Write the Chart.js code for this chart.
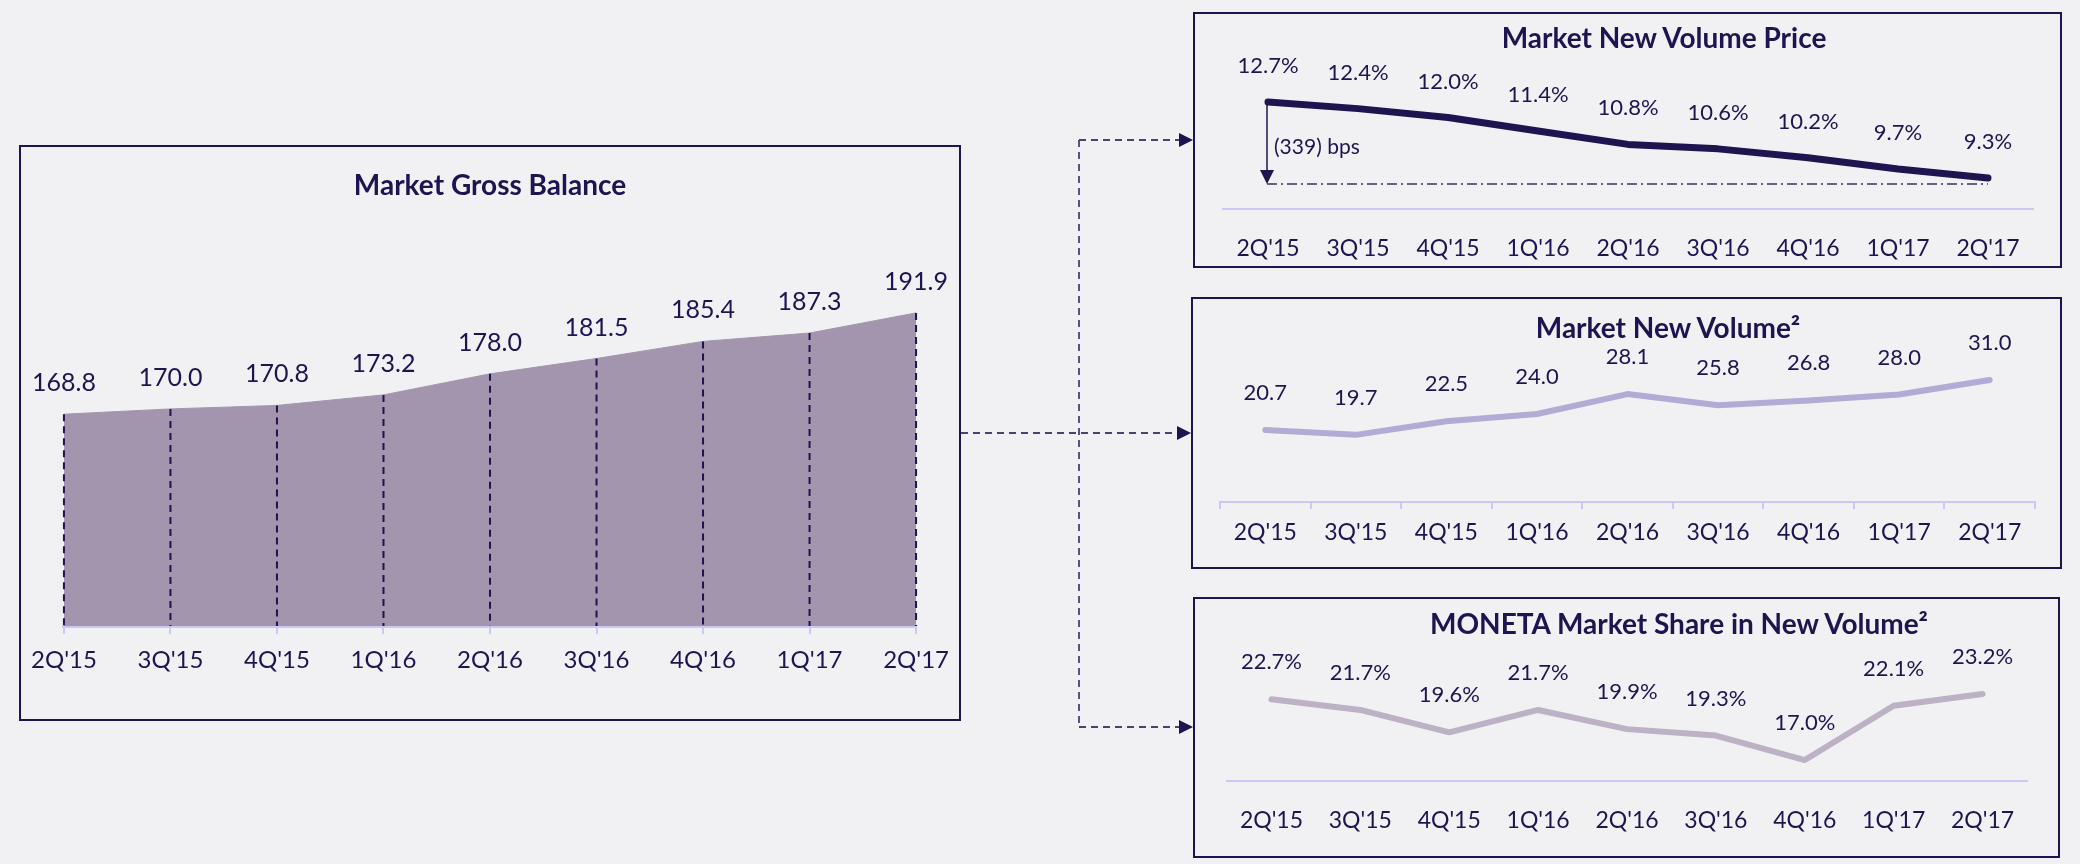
<!DOCTYPE html>
<html lang="en">
<head>
<meta charset="utf-8">
<title>Market Gross Balance</title>
<script src="https://cdn.jsdelivr.net/npm/chart.js@4.4.1/dist/chart.umd.min.js"></script>
<style>
    html, body { margin: 0; padding: 0; }
    body {
        width: 2080px; height: 864px; position: relative; overflow: hidden;
        background: #f1f0f3; font-family: Lato, 'Open Sans', sans-serif; color: #1e1450;
    }
    .caja { position: absolute; box-sizing: border-box; border: 2px solid #1e1450; }
    .titulo { position: absolute; transform: translate(-50%, -50%); font-weight: 700; font-size: 28px; white-space: nowrap; }
    canvas { position: absolute; }
    svg { position: absolute; left: 0; top: 0; }
</style>
</head>
<body>

<div class="caja" style="left:19px;top:145px;width:942px;height:576px"></div>
<div class="caja" style="left:1193px;top:12px;width:869px;height:256px"></div>
<div class="caja" style="left:1191px;top:297px;width:871px;height:272px"></div>
<div class="caja" style="left:1193px;top:597px;width:867px;height:261px"></div>

<!-- flechas de conexion entre cajas -->
<svg width="2080" height="864">
    <g stroke="#4b4272" stroke-width="1.8" stroke-dasharray="7 5" fill="none">
        <path d="M961 433 H1177"/>
        <path d="M1079 140 V727"/>
        <path d="M1079 140 H1179"/>
        <path d="M1079 727 H1179"/>
    </g>
    <g fill="#1e1450">
        <polygon points="1177,426 1191,433 1177,440"/>
        <polygon points="1179,133 1193,140 1179,147"/>
        <polygon points="1179,720 1193,727 1179,734"/>
    </g>
</svg>

<canvas id="graficaSaldo" width="942" height="576" style="left:19px;top:145px"></canvas>
<canvas id="graficaPrecio" width="869" height="256" style="left:1193px;top:12px"></canvas>
<canvas id="graficaVolumen" width="871" height="272" style="left:1191px;top:297px"></canvas>
<canvas id="graficaCuota" width="867" height="261" style="left:1193px;top:597px"></canvas>

<div class="titulo" style="left:490px;top:184px">Market Gross Balance</div>
<div class="titulo" style="left:1664px;top:37px">Market New Volume Price</div>
<div class="titulo" style="left:1668px;top:327px">Market New Volume²</div>
<div class="titulo" style="left:1679px;top:623px">MONETA Market Share in New Volume²</div>

<script>
// Datos
const trimestres = ["2Q'15", "3Q'15", "4Q'15", "1Q'16", "2Q'16", "3Q'16", "4Q'16", "1Q'17", "2Q'17"];
const saldoBruto = [168.8, 170.0, 170.8, 173.2, 178.0, 181.5, 185.4, 187.3, 191.9];
const precioNuevoVolumen = [12.7, 12.4, 12.0, 11.4, 10.8, 10.6, 10.2, 9.7, 9.3];
const nuevoVolumen = [20.7, 19.7, 22.5, 24.0, 28.1, 25.8, 26.8, 28.0, 31.0];
const cuotaMoneta = [22.7, 21.7, 19.6, 21.7, 19.9, 19.3, 17.0, 22.1, 23.2];
const variacionPrecio = '(339) bps';

const NAVY = '#1e1450';
const LAVANDA = '#cdc7f7';

Chart.defaults.font.family = "Lato, 'Open Sans', sans-serif";
Chart.defaults.color = NAVY;

// Plugin: etiquetas de valor encima de cada punto
const etiquetasDatos = {
    id: 'etiquetasDatos',
    afterDatasetsDraw(chart, args, opts) {
        const ctx = chart.ctx;
        const puntos = chart.getDatasetMeta(0).data;
        const datos = chart.data.datasets[0].data;
        ctx.save();
        ctx.font = opts.tamano + 'px ' + Chart.defaults.font.family;
        ctx.fillStyle = NAVY;
        ctx.textAlign = 'center';
        ctx.textBaseline = 'middle';
        puntos.forEach((p, i) => {
            ctx.fillText(datos[i].toFixed(1) + (opts.sufijo || ''), p.x, p.y - opts.distancia);
        });
        ctx.restore();
    }
};

// Plugin: lineas discontinuas verticales del area
const lineasVerticales = {
    id: 'lineasVerticales',
    afterDatasetsDraw(chart) {
        const ctx = chart.ctx;
        const abajo = chart.chartArea.bottom;
        ctx.save();
        ctx.strokeStyle = NAVY;
        ctx.lineWidth = 2;
        ctx.setLineDash([7, 5]);
        chart.getDatasetMeta(0).data.forEach(p => {
            ctx.beginPath();
            ctx.moveTo(p.x, p.y);
            ctx.lineTo(p.x, abajo);
            ctx.stroke();
        });
        ctx.restore();
    }
};

// Plugin: flecha de variacion en bps
const flechaVariacion = {
    id: 'flechaVariacion',
    beforeDatasetsDraw(chart, args, opts) {
        const ctx = chart.ctx;
        const puntos = chart.getDatasetMeta(0).data;
        const datos = chart.data.datasets[0].data;
        const primero = puntos[0];
        const ultimo = puntos[puntos.length - 1];
        const yPiso = chart.scales.y.getPixelForValue(Math.min(...datos)) + 6;
        const x = primero.x - 1;
        ctx.save();
        ctx.strokeStyle = '#3b325f';
        ctx.lineWidth = 1.5;
        ctx.setLineDash([10, 4, 2, 4]);
        ctx.beginPath();
        ctx.moveTo(x, yPiso);
        ctx.lineTo(ultimo.x, yPiso);
        ctx.stroke();
        ctx.setLineDash([]);
        ctx.strokeStyle = NAVY;
        ctx.beginPath();
        ctx.moveTo(x, primero.y);
        ctx.lineTo(x, yPiso - 12);
        ctx.stroke();
        ctx.fillStyle = NAVY;
        ctx.beginPath();
        ctx.moveTo(x, yPiso);
        ctx.lineTo(x - 7, yPiso - 14);
        ctx.lineTo(x + 7, yPiso - 14);
        ctx.closePath();
        ctx.fill();
        ctx.font = '21px ' + Chart.defaults.font.family;
        ctx.textAlign = 'left';
        ctx.textBaseline = 'middle';
        ctx.fillText(opts.texto, x + 7, (primero.y + yPiso) / 2 + 4);
        ctx.restore();
    }
};

function opcionesBase(yMin, yMax, padding, altoEje, ejeX) {
    return {
        responsive: false,
        animation: false,
        layout: { padding: padding },
        plugins: {
            legend: { display: false },
            tooltip: { enabled: false }
        },
        scales: {
            x: Object.assign({
                type: 'category',
                afterFit: function(escala) { escala.height = altoEje; }
            }, ejeX),
            y: { display: false, min: yMin, max: yMax }
        }
    };
}

function ticksX(tamano, padding) {
    return { color: NAVY, font: { size: tamano }, padding: padding, maxRotation: 0, autoSkip: false };
}

// Grafica de area: Market Gross Balance
function inicializarGraficaSaldo() {
    const opciones = opcionesBase(120.5, 199.4, { left: 44, right: 40, top: 135, bottom: 0 }, 95, {
        offset: false,
        grid: { display: true, drawOnChartArea: false, drawTicks: true, tickLength: 8, color: LAVANDA, lineWidth: 2 },
        border: { display: true, color: LAVANDA, width: 3 },
        ticks: ticksX(24, 12)
    });
    opciones.plugins.etiquetasDatos = { distancia: 31, tamano: 25 };
    new Chart(document.getElementById('graficaSaldo'), {
        type: 'line',
        data: {
            labels: trimestres,
            datasets: [{
                data: saldoBruto,
                fill: 'start',
                backgroundColor: '#a295ad',
                borderColor: '#a295ad',
                borderWidth: 1,
                pointRadius: 0,
                tension: 0
            }]
        },
        options: opciones,
        plugins: [lineasVerticales, etiquetasDatos]
    });
}

// Grafica de linea: Market New Volume Price
function inicializarGraficaPrecio() {
    const opciones = opcionesBase(7.91, 13.68, { left: 30, right: 29, top: 68, bottom: 0 }, 59, {
        offset: true,
        grid: { display: false },
        border: { display: true, color: LAVANDA, width: 2 },
        ticks: ticksX(23, 18)
    });
    opciones.plugins.etiquetasDatos = { distancia: 36, tamano: 22, sufijo: '%' };
    opciones.plugins.flechaVariacion = { texto: variacionPrecio };
    new Chart(document.getElementById('graficaPrecio'), {
        type: 'line',
        data: {
            labels: trimestres,
            datasets: [{
                data: precioNuevoVolumen,
                borderColor: NAVY,
                borderWidth: 7,
                borderCapStyle: 'round',
                borderJoinStyle: 'round',
                pointRadius: 0,
                tension: 0
            }]
        },
        options: opciones,
        plugins: [flechaVariacion, etiquetasDatos]
    });
}

// Grafica de linea: Market New Volume
function inicializarGraficaVolumen() {
    const opciones = opcionesBase(5.87, 39.24, { left: 29, right: 27, top: 43, bottom: 0 }, 67, {
        offset: true,
        grid: { display: true, offset: true, drawOnChartArea: false, drawTicks: true, tickLength: 7, color: LAVANDA, lineWidth: 2 },
        border: { display: true, color: LAVANDA, width: 2 },
        ticks: ticksX(23, 10)
    });
    opciones.plugins.etiquetasDatos = { distancia: 37, tamano: 22 };
    new Chart(document.getElementById('graficaVolumen'), {
        type: 'line',
        data: {
            labels: trimestres,
            datasets: [{
                data: nuevoVolumen,
                borderColor: '#b1abd6',
                borderWidth: 6,
                borderCapStyle: 'round',
                borderJoinStyle: 'round',
                pointRadius: 0,
                tension: 0
            }]
        },
        options: opciones,
        plugins: [etiquetasDatos]
    });
}

// Grafica de linea: MONETA Market Share in New Volume
function inicializarGraficaCuota() {
    const opciones = opcionesBase(15.03, 27.33, { left: 34, right: 33, top: 53, bottom: 0 }, 77, {
        offset: true,
        grid: { display: false },
        border: { display: true, color: LAVANDA, width: 2 },
        ticks: ticksX(23, 18)
    });
    opciones.plugins.etiquetasDatos = { distancia: 37, tamano: 22, sufijo: '%' };
    new Chart(document.getElementById('graficaCuota'), {
        type: 'line',
        data: {
            labels: trimestres,
            datasets: [{
                data: cuotaMoneta,
                borderColor: '#bdb1c5',
                borderWidth: 6,
                borderCapStyle: 'round',
                borderJoinStyle: 'round',
                pointRadius: 0,
                tension: 0
            }]
        },
        options: opciones,
        plugins: [etiquetasDatos]
    });
}

document.addEventListener('DOMContentLoaded', function() {
    inicializarGraficaSaldo();
    inicializarGraficaPrecio();
    inicializarGraficaVolumen();
    inicializarGraficaCuota();
});
</script>
</body>
</html>
